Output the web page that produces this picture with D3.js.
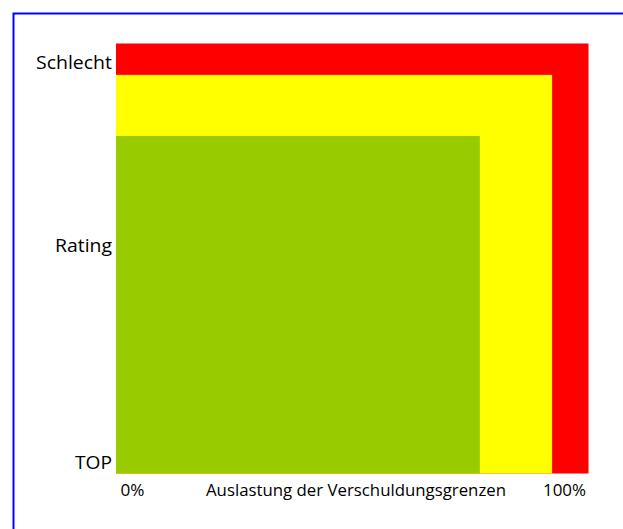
<!DOCTYPE html>
<html><head><meta charset="utf-8">
<script src="https://cdn.jsdelivr.net/npm/d3@7"></script>
<style>html,body{margin:0;padding:0;background:#fff;overflow:hidden}</style>
</head><body>
<svg id="c" width="623" height="529"></svg>
<script>
// Zones: extent in utilisation (x, 0..1) and rating (y, 0=TOP..1=Schlecht)
const zones = ["Rot", "Gelb", "Grün"];
const zoneUtil = [1.0, 0.923, 0.770];
const zoneRating = [1.0, 0.927, 0.785];
const zoneColors = ["#FF0000", "#FFFF00", "#99CC00"];
const yTickValues = [1.0, 0.5, 0.0];
const yTickLabels = ["Schlecht", "Rating", "TOP"];
const xTickValues = [0, 1];
const xTickLabels = ["0%", "100%"];
const xTitle = "Auslastung der Verschuldungsgrenzen";

const svg = d3.select("#c");
const font = "'Open Sans', 'DejaVu Sans', sans-serif";

// outer frame (clipped at right/bottom)
svg.append("rect").attr("x", 13.5).attr("y", 13.5).attr("width", 640).attr("height", 540)
  .attr("fill", "none").attr("stroke", "#0000FF").attr("stroke-width", 2);

const x = d3.scaleLinear().domain([0, 1]).range([116, 588.5]);
const y = d3.scaleLinear().domain([0, 1]).range([473.5, 43.5]);

svg.selectAll("rect.zone").data(zones).join("rect").attr("class", "zone")
  .attr("x", x(0))
  .attr("y", (d, i) => y(zoneRating[i]))
  .attr("width", (d, i) => x(zoneUtil[i]) - x(0))
  .attr("height", (d, i) => y(0) - y(zoneRating[i]))
  .attr("fill", (d, i) => zoneColors[i]);

// y axis labels
const yAxis = d3.axisLeft(y).tickValues(yTickValues)
  .tickFormat((d, i) => yTickLabels[i]).tickSize(0).tickPadding(4);
const gy = svg.append("g").attr("transform", `translate(${x(0)},0)`).call(yAxis);
gy.select(".domain").remove();
gy.selectAll("text").attr("font-family", font).attr("font-size", 19).attr("fill", "#000")
  .attr("dy", null)
  .attr("y", (d, i) => [24.5, -7, -5.5][i])
  .attr("dominant-baseline", "auto")
  .attr("textLength", (d, i) => [76, 57, 37][i]).attr("lengthAdjust", "spacingAndGlyphs");

// x axis labels
const xAxis = d3.axisBottom(x).tickValues(xTickValues)
  .tickFormat((d, i) => xTickLabels[i]).tickSize(0).tickPadding(0);
const gx = svg.append("g").attr("transform", `translate(0,${y(0)})`).call(xAxis);
gx.select(".domain").remove();
gx.selectAll("text").attr("font-family", font).attr("font-size", 16).attr("fill", "#000")
  .attr("dy", null).attr("y", 22.5)
  .attr("text-anchor", (d, i) => i === 0 ? "start" : "end")
  .attr("x", (d, i) => i === 0 ? 4 : -3)
  .attr("textLength", (d, i) => [24, 43][i]).attr("lengthAdjust", "spacingAndGlyphs");

svg.append("text").attr("x", 356).attr("y", y(0) + 22.5)
  .attr("text-anchor", "middle").attr("font-family", font).attr("font-size", 16)
  .attr("textLength", 300).attr("lengthAdjust", "spacingAndGlyphs")
  .text(xTitle);
</script>
</body></html>
